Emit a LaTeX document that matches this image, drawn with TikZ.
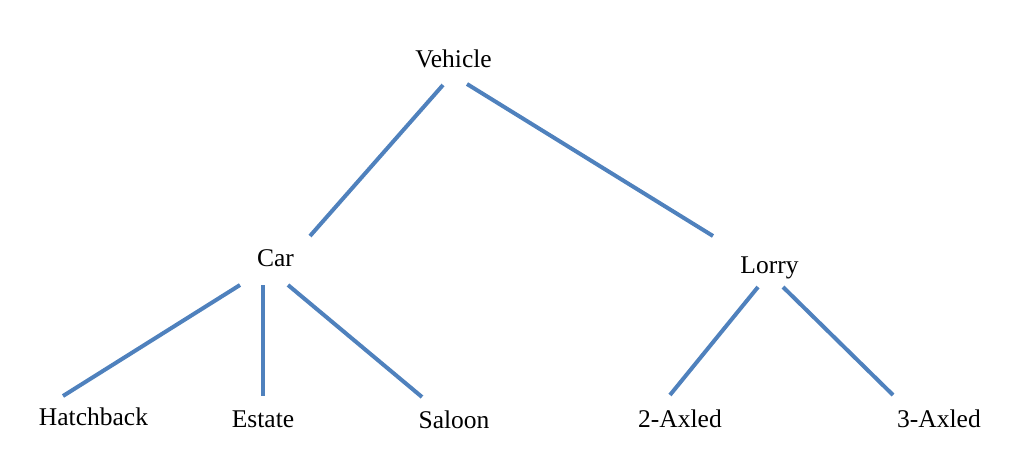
\documentclass[tikz,border=0pt]{standalone}
\usepackage{fontspec}
\setmainfont{Liberation Serif}
\definecolor{linkblue}{HTML}{4F81BD}
\begin{document}
\begin{tikzpicture}[x=1pt,y=-1pt,
  lbl/.style={anchor=base,inner sep=0pt,font=\fontsize{25.5}{30}\selectfont},
  link/.style={draw=linkblue,line width=4pt}]
\useasboundingbox (0,0) rectangle (1012,460);
\node[lbl] (vehicle) at (453.5,67.7) {Vehicle};
\node[lbl] (car) at (275.5,266.7) {Car};
\node[lbl] (lorry) at (769.5,273.3) {Lorry};
\node[lbl] (hatch) at (93.5,425.7) {Hatchback};
\node[lbl] (estate) at (263,427.7) {Estate};
\node[lbl] (saloon) at (454,428) {Saloon};
\node[lbl] (two) at (680,427.7) {2-Axled};
\node[lbl] (three) at (939,427.7) {3-Axled};
\draw[link] ([shift={(-10.5,17.3)}]vehicle.base) -- ([shift={(34.5,-30.7)}]car.base);
\draw[link] ([shift={(13.5,16.3)}]vehicle.base) -- ([shift={(-56.5,-37.3)}]lorry.base);
\draw[link] ([shift={(-35.5,18.3)}]car.base) -- ([shift={(-30.5,-29.7)}]hatch.base);
\draw[link] ([shift={(-12.2,18.3)}]car.base) -- ([shift={(0.3,-31.7)}]estate.base);
\draw[link] ([shift={(12.5,18.3)}]car.base) -- ([shift={(-32,-31)}]saloon.base);
\draw[link] ([shift={(-11.5,13.7)}]lorry.base) -- ([shift={(-10,-32.7)}]two.base);
\draw[link] ([shift={(13.5,13.7)}]lorry.base) -- ([shift={(-46,-32.7)}]three.base);
\end{tikzpicture}
\end{document}
